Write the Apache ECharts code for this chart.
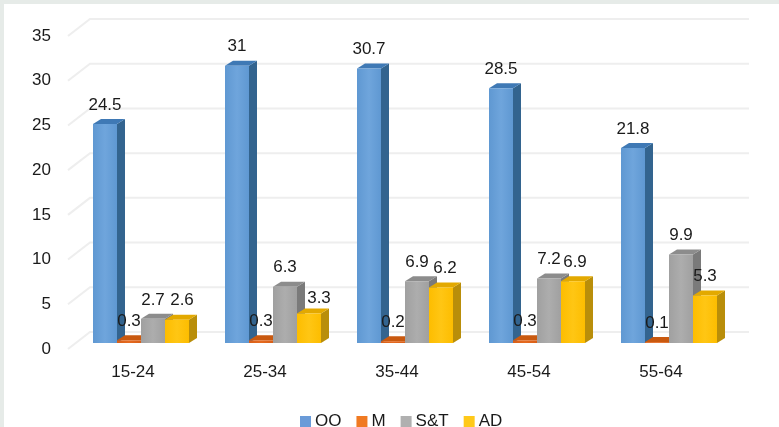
<!DOCTYPE html>
<html><head><meta charset="utf-8">
<style>html,body{margin:0;padding:0;background:#e6ebe8;}#c{position:absolute;left:4px;top:4px;width:775px;height:423px;background:#fff}</style>
<script src="https://cdn.jsdelivr.net/npm/echarts@6/dist/echarts.min.js"></script>
</head><body><div id="c"></div>
<script>
const categories = ['15-24','25-34','35-44','45-54','55-64'];
const OO = [24.5,31,30.7,28.5,21.8];
const M = [0.3,0.3,0.2,0.3,0.1];
const ST = [2.7,6.3,6.9,7.2,9.9];
const AD = [2.6,3.3,6.2,6.9,5.3];
const ticks = [0,5,10,15,20,25,30,35];
const adNudgeX = [5,10,4,2,0];
const adNudgeY = [0,4,0,0,0];

const DX=8, DY=5, BASE=6;
const TXT='#1a1a1a', FONT='"Liberation Sans",Arial,sans-serif', FS=17;

function shade(edge,mid){
  return new echarts.graphic.LinearGradient(0,0,1,0,[{offset:0,color:edge},{offset:0.5,color:mid},{offset:1,color:edge}]);
}
function barSeries(name, values, slot, legendColor, front, top, side, nudgeX, nudgeY){
  return {
    type:'custom', name, coordinateSystem:'cartesian2d',
    itemStyle:{color:legendColor},
    encode:{x:0,y:1},
    data:values.map((v,i)=>[i,v]),
    clip:false,
    renderItem(params,api){
      const i=api.value(0), v=api.value(1);
      const p=api.coord([i,v]), z=api.coord([i,0]);
      const band=api.size([1,0])[0], w=band*24/132;
      const x=p[0]+band*8/132+(slot-2)*w;
      const y0=z[1]-BASE, y1=p[1]-BASE;
      return {type:'group',children:[
        {type:'polygon',shape:{points:[[x+w,y0],[x+w+DX,y0-DY],[x+w+DX,y1-DY],[x+w,y1]]},style:{fill:side}},
        {type:'polygon',shape:{points:[[x,y1],[x+DX,y1-DY],[x+w+DX,y1-DY],[x+w,y1]]},style:{fill:top}},
        {type:'rect',shape:{x,y:y1,width:w,height:y0-y1},style:{fill:shade(front[0],front[1])}},
        {type:'text',z2:100,style:{x:x+w/2+(nudgeX?nudgeX[i]:0),y:y1-19+(nudgeY?nudgeY[i]:0),text:String(v),fill:TXT,font:FS+'px '+FONT,align:'center',verticalAlign:'middle'}}
      ]};
    }
  };
}
const gridSeries={
  type:'custom',silent:true,coordinateSystem:'cartesian2d',encode:{x:0,y:1},clip:false,z:0,
  data:ticks.map(t=>[0,t]),
  renderItem(params,api){
    const g=params.coordSys, y=api.coord([0,api.value(1)])[1];
    return {type:'polyline',shape:{points:[[g.x+1,y],[g.x+23,y-17],[g.x+g.width+22,y-17]]},style:{stroke:'#eeeeee',lineWidth:2,fill:null}};
  }
};
const chart=echarts.init(document.getElementById('c'),null,{renderer:'canvas'});
chart.setOption({
  animation:false,
  backgroundColor:'#fff',
  grid:{left:63,top:32,width:660,height:313,containLabel:false},
  xAxis:{type:'category',data:categories,axisLine:{show:false},axisTick:{show:false},splitLine:{show:false},
    axisLabel:{color:TXT,fontFamily:FONT,fontSize:FS,margin:15}},
  yAxis:{type:'value',min:0,max:35,interval:5,axisLine:{show:false},axisTick:{show:false},splitLine:{show:false},
    axisLabel:{color:TXT,fontFamily:FONT,fontSize:FS,margin:16}},
  legend:{data:['OO','M','S&T','AD'],left:291,top:404,icon:'rect',itemWidth:11,itemHeight:11,itemGap:15,
    textStyle:{color:TXT,fontFamily:FONT,fontSize:FS,padding:[0,0,0,-1]}},
  series:[gridSeries,
    barSeries('OO',OO,0,'#6a9bd8',['#5f98d2','#6fa5dc'],'#3f79b5','#33648f'),
    barSeries('M',M,1,'#f07a22',['#d85f18','#e56a20'],'#c9590f','#a34a10'),
    barSeries('S&T',ST,2,'#b0b0b0',['#a0a0a0','#adadad'],'#8c8c8c','#7a7a7a'),
    barSeries('AD',AD,3,'#ffc91a',['#fdbd00','#ffc614'],'#e3a900','#b98e0a',adNudgeX,adNudgeY)
  ]
});
</script></body></html>
